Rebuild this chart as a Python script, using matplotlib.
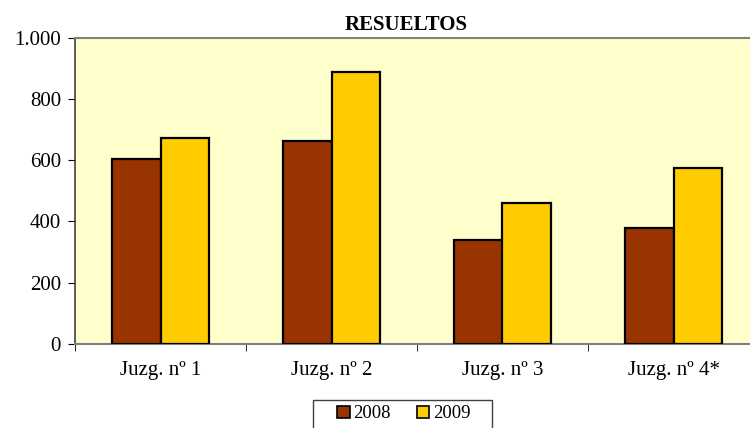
import matplotlib
matplotlib.use("Agg")
import matplotlib.pyplot as plt
import numpy as np
from matplotlib.patches import Patch, Rectangle

categories = ["Juzg. nº 1", "Juzg. nº 2", "Juzg. nº 3", "Juzg. nº 4*"]
series_names = ["2008", "2009"]
values_2008 = [605, 664, 338, 378]
values_2009 = [672, 889, 459, 576]
yticks = [0, 200, 400, 600, 800, 1000]
ytick_labels = ["0", "200", "400", "600", "800", "1.000"]

plt.rcParams["font.family"] = ["Liberation Serif", "DejaVu Serif"]

fig = plt.figure(figsize=(7.5, 4.28), dpi=100)
ax = fig.add_axes([75/750, 1-344/428, 684/750, (344-37.7)/428])
ax.set_facecolor("#FFFFCC")

x = np.arange(len(categories))
w = 0.286
ax.bar(x - w/2, values_2008, w, color="#993300", edgecolor="black", linewidth=1.6, label=series_names[0], zorder=3)
ax.bar(x + w/2, values_2009, w, color="#FFCC00", edgecolor="black", linewidth=1.6, label=series_names[1], zorder=3)

ax.set_xlim(-0.5, len(categories) - 0.5)
ax.set_ylim(0, 1000)
ax.set_yticks(yticks)
ax.set_yticklabels(ytick_labels, fontsize=15)
ax.set_xticks(x)
ax.set_xticklabels(categories, fontsize=15)
ax.set_xticks(np.arange(-0.5, len(categories), 1.0), minor=True)
ax.tick_params(axis="x", which="major", length=0, pad=12)
ax.tick_params(axis="x", which="minor", length=5, color="black", direction="out")
ax.tick_params(axis="y", length=5, color="black", direction="out", pad=5)

for s in ["top", "bottom"]:
    ax.spines[s].set_color("#808080")
    ax.spines[s].set_linewidth(1.5)
ax.spines["left"].set_color("#404040")
ax.spines["left"].set_linewidth(1.2)
ax.spines["right"].set_visible(False)

fig.text(406/750, 1-25/428, "RESUELTOS", ha="center", va="center", fontsize=15, fontweight="bold")

# legend box (extends past the bottom edge like the reference)
fig.patches.append(Rectangle((313/750, 1-440/428), 179/750, 40/428, transform=fig.transFigure,
                             facecolor="white", edgecolor="#404040", linewidth=1.0))

handles = [Patch(facecolor="#993300", edgecolor="black", linewidth=1.2),
           Patch(facecolor="#FFCC00", edgecolor="black", linewidth=1.2)]
leg = fig.legend(handles, series_names, loc="center", bbox_to_anchor=(404/750, 1-414/428),
                 ncol=2, fontsize=13.5, frameon=False, handlelength=0.65,
                 handleheight=0.65, handletextpad=0.2, columnspacing=1.4, borderpad=0.2,
                 borderaxespad=0)

fig.savefig("out.png", dpi=100, facecolor="white")
